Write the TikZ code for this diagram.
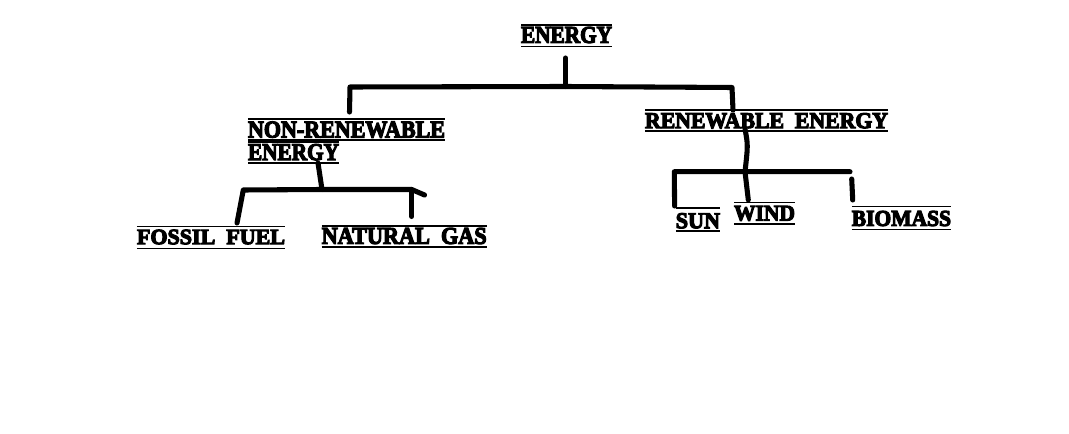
\documentclass[tikz,border=0pt]{standalone}
\usepackage{fontspec}
\setmainfont{Liberation Serif}
\newfontfamily\heavy{Liberation Serif}[BoldFeatures={FakeBold=5}]
\newcommand{\fitbox}[3]{\resizebox{#1\dimexpr0.75pt\relax}{#2\dimexpr0.75pt\relax}{\heavy\bfseries #3}}
\begin{document}
\begin{tikzpicture}[x=0.75pt,y=-0.75pt,
  lbl/.style={inner sep=0pt,outer sep=0pt},
  rule/.style={line width=1.1pt},
  conn/.style={line width=3.8pt,line cap=round,line join=round}]
\useasboundingbox[fill=white] (0,0) rectangle (1069,434);
% labels (center x, center y), width, height
\node[lbl] (energy) at (566.5,35) {\fitbox{91}{16}{ENERGY}};
\node[lbl] (nr1) at (346.5,129.7) {\fitbox{197}{16}{NON-RENEWABLE}};
\node[lbl] (nr2) at (293.5,152.2) {\fitbox{91}{16}{ENERGY}};
\node[lbl] (re) at (766.5,120.8) {\fitbox{243}{15}{RENEWABLE\ \ ENERGY}};
\node[lbl] (fossil) at (211,237) {\fitbox{148}{14.5}{FOSSIL\ \ FUEL}};
\node[lbl] (gas) at (404.2,236) {\fitbox{165}{16}{NATURAL\ \ GAS}};
\node[lbl] (sun) at (697.9,220.8) {\fitbox{44.3}{15}{SUN}};
\node[lbl] (wind) at (764.5,213.4) {\fitbox{61}{14.7}{WIND}};
\node[lbl] (bio) at (901.4,218.5) {\fitbox{99.3}{15}{BIOMASS}};
% over- and underlines
\foreach \n/\a/\b in {energy/2/3.5, nr1/2.5/2.3, nr2/2/2.7, re/3.3/2.4, fossil/3.3/4, gas/2/2.7, sun/5/2.7, wind/3.3/3.3, bio/4.3/3.3}{
  \draw[rule] ([yshift=\a*0.75pt]\n.north west) -- ([yshift=\a*0.75pt]\n.north east);
  \draw[rule] ([yshift=-\b*0.75pt]\n.south west) -- ([yshift=-\b*0.75pt]\n.south east);
}
% junction coordinates
\coordinate (e0) at (565.5,58);
\coordinate (e1) at (565.5,86.5);
\coordinate (tl) at (350,87);
\coordinate (tl2) at (349.5,112);
\coordinate (tr) at (732,87.5);
\coordinate (tr2) at (733,110);
\coordinate (n0) at (318,163);
\coordinate (n1) at (322,189.5);
\coordinate (nl) at (243.3,190);
\coordinate (nl2) at (237,223);
\coordinate (nr) at (411.7,189.5);
\coordinate (nr2b) at (411.7,216.5);
\coordinate (ne) at (424.5,195);
\coordinate (r0) at (745,129);
\coordinate (r1) at (745,171.7);
\coordinate (rl) at (674.3,171.7);
\coordinate (rl2) at (674.6,206);
\coordinate (rr) at (850,171.7);
\coordinate (w2) at (748.3,200);
\coordinate (b1) at (851.7,179);
\coordinate (b2) at (852.7,200);
% connectors
\draw[conn] (e0) -- (e1);
\draw[conn] (tl2) -- (tl) -- (e1) -- (tr) -- (tr2);
\draw[conn] (n0) -- (n1);
\draw[conn] (nl2) -- (nl) -- (n1) -- (nr) -- (ne);
\draw[conn] (nr) -- (nr2b);
\draw[conn] (r0) .. controls (748,145) .. (r1);
\draw[conn] (rl2) -- (rl) -- (r1) -- (rr);
\draw[conn] (r1) -- (w2);
\draw[conn] (b1) -- (b2);
\end{tikzpicture}
\end{document}
